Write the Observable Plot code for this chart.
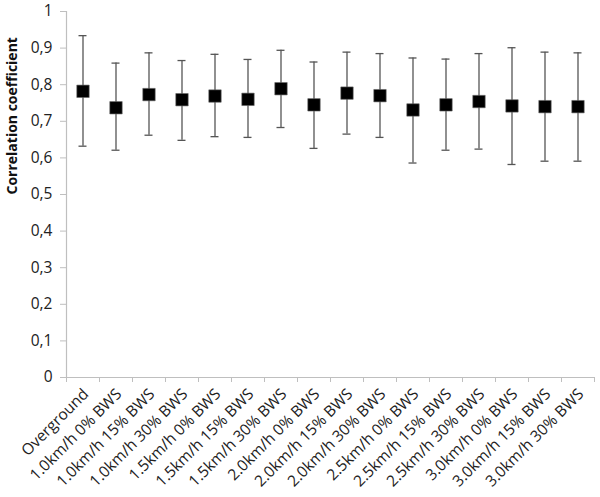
<!DOCTYPE html>
<html>
<head>
<meta charset="utf-8">
<script src="https://cdn.jsdelivr.net/npm/d3@7"></script>
<script src="https://cdn.jsdelivr.net/npm/@observablehq/plot@0.6"></script>
<style>
  html, body { margin: 0; padding: 0; background: #fff; }
  #chart { width: 600px; height: 497px; }
</style>
</head>
<body>
<div id="chart"></div>
<script>
const categories = [
  "Overground",
  "1.0km/h 0% BWS", "1.0km/h 15% BWS", "1.0km/h 30% BWS",
  "1.5km/h 0% BWS", "1.5km/h 15% BWS", "1.5km/h 30% BWS",
  "2.0km/h 0% BWS", "2.0km/h 15% BWS", "2.0km/h 30% BWS",
  "2.5km/h 0% BWS", "2.5km/h 15% BWS", "2.5km/h 30% BWS",
  "3.0km/h 0% BWS", "3.0km/h 15% BWS", "3.0km/h 30% BWS"
];
const means = [0.782, 0.737, 0.773, 0.759, 0.769, 0.760, 0.789, 0.745, 0.777, 0.770, 0.731, 0.745, 0.754, 0.742, 0.740, 0.740];
const upper = [0.934, 0.859, 0.887, 0.866, 0.883, 0.869, 0.894, 0.862, 0.889, 0.885, 0.873, 0.870, 0.885, 0.901, 0.889, 0.887];
const lower = [0.632, 0.621, 0.662, 0.648, 0.658, 0.656, 0.683, 0.626, 0.665, 0.656, 0.586, 0.621, 0.624, 0.582, 0.591, 0.591];
const yTicks = [0, 0.1, 0.2, 0.3, 0.4, 0.5, 0.6, 0.7, 0.8, 0.9, 1];
const yLabel = "Correlation coefficient";

const data = categories.map((c, i) => ({cat: c, mean: means[i], hi: upper[i], lo: lower[i]}));
const fmt = d => (d === 0 || d === 1) ? String(d) : d.toFixed(1).replace(".", ",");
const axisGray = "#bfbfbf";
const font = "'Open Sans', sans-serif";

const chart = Plot.plot({
  width: 600,
  height: 497,
  marginLeft: 66,
  marginRight: 6,
  marginTop: 11,
  marginBottom: 120,
  style: {fontFamily: font, background: "#fff"},
  x: {domain: categories, padding: 0},
  y: {domain: [0, 1]},
  marks: [
    Plot.ruleY([0], {stroke: axisGray, strokeWidth: 1.2}),
    Plot.frame({anchor: "left", stroke: axisGray, strokeWidth: 1.2}),
    Plot.axisY({ticks: yTicks, tickFormat: fmt, tickSize: 6, tickPadding: 8, stroke: axisGray, fill: "#222", fontSize: 15.5, label: null}),
    Plot.axisX({ticks: categories, tickSize: 5, tickFormat: () => "", dx: -16.5, stroke: axisGray, label: null}),
    Plot.axisX({ticks: [categories[categories.length - 1]], tickSize: 5, tickFormat: () => "", dx: 16.5, stroke: axisGray, label: null}),
    Plot.axisX({ticks: categories, tickSize: 0, tickRotate: -45, tickPadding: 14, dx: 3, fill: "#222", fontSize: 15.5, label: null}),
    Plot.text([yLabel], {frameAnchor: "left", text: d => d, rotate: -90, dx: -54, fontWeight: "bold", fontSize: 14, fill: "#111"}),
    Plot.ruleX(data, {x: "cat", y1: "lo", y2: "hi", stroke: "#555", strokeWidth: 1.3}),
    Plot.tickY(data, {x: "cat", y: "hi", stroke: "#555", strokeWidth: 1.3, insetLeft: 12.5, insetRight: 12.5}),
    Plot.tickY(data, {x: "cat", y: "lo", stroke: "#555", strokeWidth: 1.3, insetLeft: 12.5, insetRight: 12.5}),
    Plot.dot(data, {x: "cat", y: "mean", symbol: "square", r: 7, fill: "#000", stroke: "#666", strokeWidth: 0.6})
  ]
});
document.getElementById("chart").appendChild(chart);
</script>
</body>
</html>
